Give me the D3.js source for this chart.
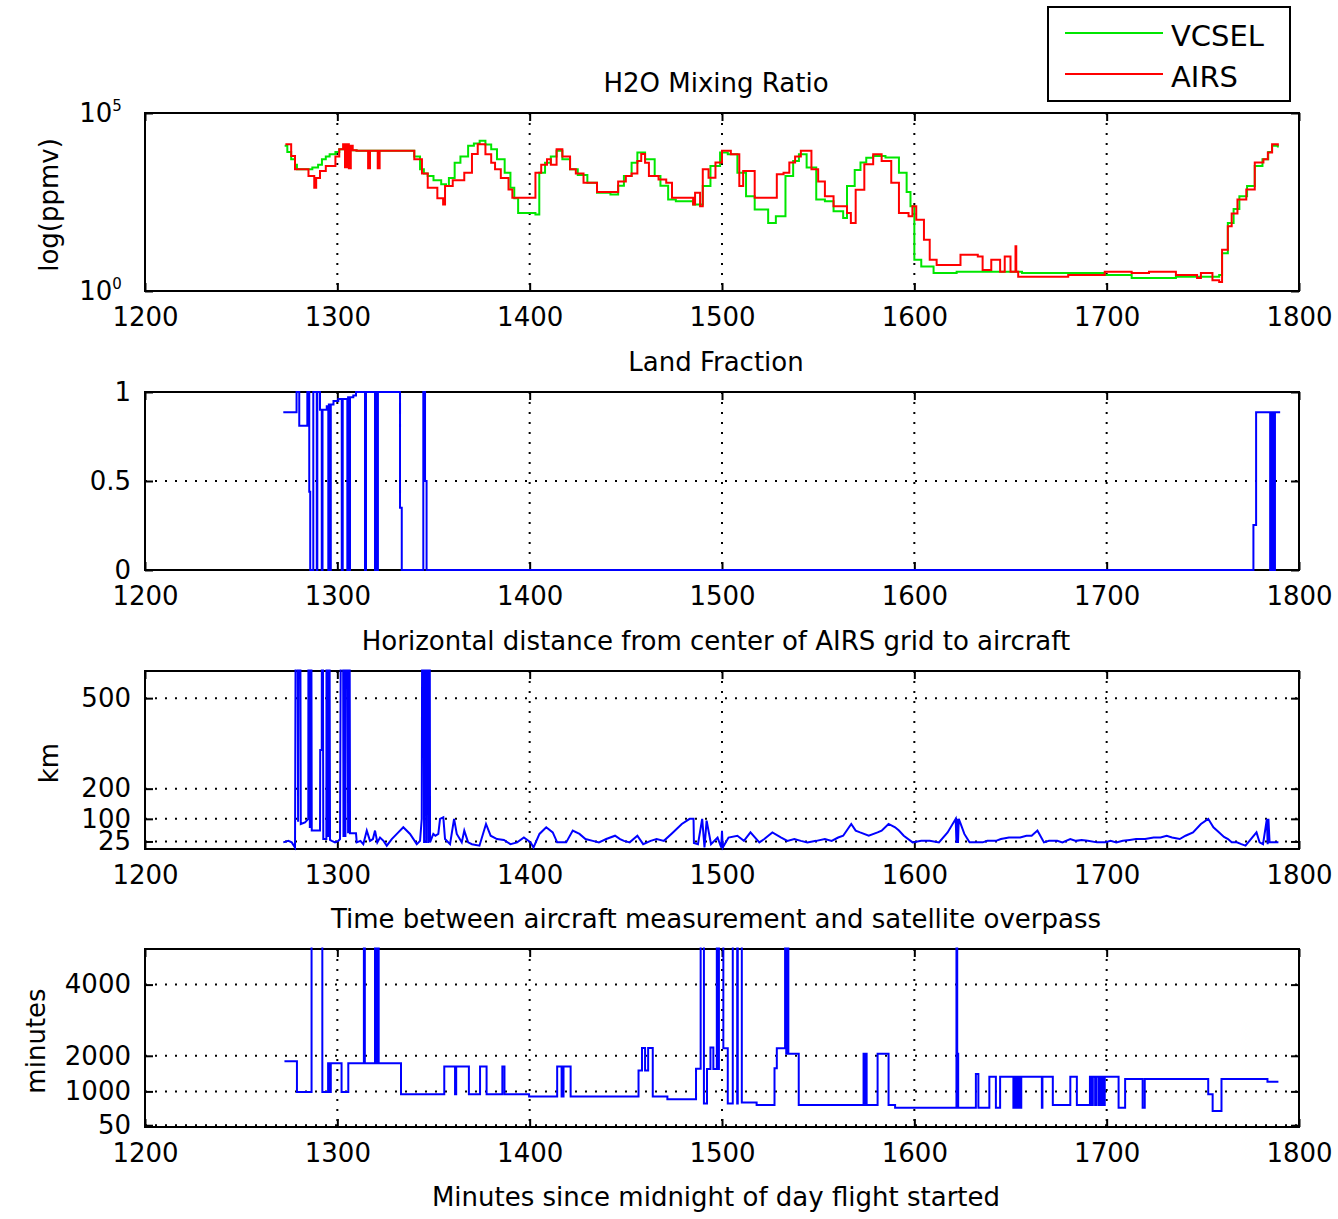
<!DOCTYPE html>
<html>
<head>
<meta charset="utf-8">
<script src="https://cdn.jsdelivr.net/npm/d3@7"></script>
<style>
  body { margin: 0; background: #fff; }
  text { font-family: "DejaVu Sans", sans-serif; fill: #000; }
</style>
</head>
<body>
<svg id="chart" width="1338" height="1219"></svg>
<script>
// ---- data: [minute since midnight, value] ----
const xTicks = [1200, 1300, 1400, 1500, 1600, 1700, 1800];

// H2O mixing ratio, ppmv
const h2oVcsel = [
  [1272.6,12000],[1274,8000],[1276,5000],[1278,3500],[1279,2630],[1283,2630],[1287,2950],[1290,3500],
  [1292,5000],[1294,6000],[1296,6900],[1299,8000],[1301,9550],[1304,9000],[1310,8700],[1338,8700],
  [1340,6000],[1343,2630],[1345,2000],[1347,1700],[1350,1300],[1354,1000],[1356.5,890],[1358,1500],
  [1361,3980],[1364,6000],[1368,12000],[1371,14000],[1374,16600],[1377,13000],[1380,9550],[1383,5000],
  [1387,2090],[1390,800],[1392,400],[1394,155],[1403,141],[1405,2090],[1408,4000],[1411,6000],
  [1414,8700],[1417,5000],[1421,2630],[1425,1800],[1430,1100],[1435,575],[1442,513],[1446,900],
  [1449,1700],[1453,4000],[1456,7760],[1460,5000],[1465,1700],[1468,900],[1472,372],[1476,331],
  [1485,269],[1490,890],[1494,3240],[1499,7760],[1503,6900],[1508,2090],[1512.5,457],[1517,195],
  [1524,81],[1528,126],[1533,1700],[1537,4500],[1540,6900],[1544,2950],[1549,372],[1553.5,331],
  [1558,174],[1563,112],[1565,890],[1569,2500],[1572,4070],[1575,5500],[1578.6,6170],[1585,5620],
  [1592,2090],[1596,600],[1598,240],[1600,7.6],[1603.6,4.9],[1610,3.2],[1622,3.5],[1644.6,3.5],
  [1656,3.2],[1679,3.2],[1699,2.8],[1713,2.3],[1736,2.5],[1745,2.5],[1758.5,2.8],[1760,11.5],
  [1763,81],[1766,200],[1769,457],[1773,890],[1777,3240],[1781,5000],[1784,8000],[1786,12000],
  [1789,10700]
];
const h2oAirs = [
  [1273,13200],[1276,6200],[1278,2630],[1281,2630],[1285,1700],[1288,790],[1289,1500],[1291,2340],
  [1294,3240],[1296,3240],[1299,6000],[1301,9550],[1303,13200],[1304,3000],[1305,13200],[1306,2800],
  [1307,12000],[1308,9000],[1310,8700],[1315,8700],[1316,2800],[1317,8700],[1320,8700],[1321,2800],
  [1322,8700],[1338,8700],[1340,5000],[1344,2000],[1347,795],[1352,400],[1355,270],[1356,890],
  [1360,1300],[1366,2090],[1370,7000],[1373,13200],[1377,6900],[1380,4000],[1382,2630],[1385,1500],
  [1389,710],[1391,417],[1402,417],[1403,2090],[1406,3500],[1409,5000],[1411,3500],[1414,9550],
  [1417,6000],[1421,2630],[1424,2000],[1428,1100],[1435,600],[1442,600],[1446,1200],[1450,1700],
  [1453,2000],[1456,4500],[1458,7000],[1460,4000],[1462,1700],[1467,1350],[1471,1100],[1474,417],
  [1485,269],[1486,575],[1488.6,240],[1490,2630],[1493,1510],[1496.6,4070],[1500,8700],[1504.6,6900],
  [1509,890],[1511,2340],[1517,417],[1525,417],[1528.5,1900],[1532,2090],[1535,4070],[1538,6000],
  [1541,8700],[1546.5,2630],[1550,1200],[1553.5,457],[1558,240],[1565,155],[1567,81],[1569.5,700],
  [1574,3630],[1578.6,6900],[1583,4470],[1588,1100],[1592,155],[1597,126],[1599,240],[1601,100],
  [1605,27.5],[1608,7.6],[1611.6,5.4],[1622,5.4],[1624,10.5],[1633,9.3],[1635.5,3.9],[1640,7.6],
  [1644.6,3.5],[1647,9.3],[1650,3.5],[1652.6,18],[1653,3.5],[1654,2.5],[1667,2.5],[1680,2.8],
  [1697,2.8],[1699,3.5],[1713,3.2],[1722,3.5],[1736,2.8],[1747,2.3],[1749,3.2],[1755,2.0],
  [1758.5,1.8],[1760,14.5],[1763,66],[1765,150],[1768,372],[1772.6,708],[1777,4070],[1781.5,5000],
  [1783.8,7760],[1786,13200],[1789,12000]
];
const h2oTicks = [1, 1e5];

// land fraction
const landFraction = [
  [1271.9,0.886],[1278.8,1],[1280.2,0.81],[1284.4,1],[1285.4,0.44],[1285.9,0],[1287.5,1],[1289.3,0],
  [1289.6,1],[1291,0.9],[1291.9,0],[1292.3,0.9],[1294.5,0.92],[1295.3,0],[1295.6,0.93],[1296.3,0],
  [1296.6,0.93],[1298,0.95],[1300.5,0.96],[1302.3,0],[1302.8,0.96],[1305.2,0],[1305.6,0.97],
  [1306.1,0],[1306.6,0.97],[1308.3,0.98],[1309.7,1],[1314.4,0],[1314.9,1],[1319.6,0],[1320.1,1],
  [1320.6,0],[1321.1,1],[1332.6,0.35],[1333.5,0],[1344.7,1],[1345.6,0.5],[1346.4,0],
  [1776.3,0.253],[1777.7,0.886],[1785,0],[1785.5,0.886],[1786,0],[1786.5,0.886],[1787,0],
  [1787.5,0.886],[1790.2,0.886]
];
const landTicks = [0, 0.5, 1];

// horizontal distance from AIRS grid centre to aircraft, km
const distanceKm = [
  [1271.9,22],[1274.5,27],[1276.3,22],[1278,5],[1278.9,2000],[1279.6,90],[1280.3,2000],[1281,83],
  [1283.2,88],[1284.9,100],[1285.1,2000],[1285.7,70],[1286.1,2000],[1286.7,61],[1291,61],[1291.1,328],
  [1291.9,328],[1292.1,2000],[1292.7,33],[1294.3,33],[1294.5,2000],[1295.2,40],[1295.5,2000],
  [1296.2,30],[1297.1,27],[1298.8,22],[1300.5,27],[1301.4,33],[1302.6,2000],[1303.2,40],[1303.6,2000],
  [1304.2,40],[1304.9,2000],[1305.6,52],[1306,2000],[1306.6,52],[1309.7,52],[1310.1,22],[1312,27],
  [1313.5,16],[1315.3,61],[1317,27],[1318.5,33],[1319.6,61],[1320.8,22],[1322.2,38],[1324,27],
  [1325.7,11],[1328.3,33],[1331.7,55],[1334.3,72],[1337.8,50],[1341.3,16],[1343,27],[1343.9,100],
  [1344.5,2000],[1345.1,20],[1345.6,2000],[1346.2,20],[1346.7,2000],[1347.3,20],[1347.8,2000],
  [1348.2,22],[1349.9,50],[1351,44],[1352.5,50],[1353.4,100],[1355.1,105],[1356,33],[1358.6,16],
  [1360.7,100],[1362.1,50],[1364.7,22],[1366,61],[1368,22],[1370,16],[1373.9,11],[1377.3,83],
  [1379.7,44],[1383,33],[1386.6,30],[1390,16],[1393.5,22],[1397,38],[1400.5,22],[1402,5],[1405.1,50],
  [1408.6,72],[1412,55],[1414.3,22],[1419,22],[1422.4,61],[1425.9,50],[1429,33],[1432.8,27],
  [1436,22],[1439.8,33],[1444.4,44],[1447,33],[1449,27],[1452,22],[1456,44],[1459,16],[1462.9,27],
  [1466,33],[1469.8,27],[1474.5,55],[1479.1,83],[1483.2,100],[1485.2,100],[1485.4,20],[1487.5,16],
  [1489.7,100],[1490.9,5],[1492,94],[1494.3,16],[1497.7,38],[1499.6,5],[1500,60],[1500.4,5],
  [1503.4,38],[1508,44],[1511.4,27],[1514.8,55],[1519.4,22],[1522,33],[1526.2,55],[1530.8,38],
  [1534,27],[1537.6,33],[1541,27],[1544.4,22],[1549,27],[1553.5,33],[1557,27],[1560.4,38],[1563,44],
  [1567.2,83],[1569.5,61],[1571.8,55],[1576.3,44],[1580.9,55],[1583,61],[1586.6,83],[1590,72],
  [1592,61],[1594.5,44],[1599.1,22],[1603.6,27],[1608,27],[1612.8,22],[1617.3,55],[1621.5,100],
  [1621.9,20],[1622.3,100],[1622.7,20],[1623.1,100],[1624.1,83],[1626,50],[1628.7,22],[1632,22],
  [1635.5,22],[1638,27],[1642.4,27],[1645,33],[1649.2,38],[1652,38],[1655,38],[1658.3,44],[1661,44],
  [1664,61],[1665,50],[1667.4,22],[1670,27],[1674.3,27],[1677,22],[1681.1,33],[1684,27],[1687,30],
  [1690.2,27],[1695,22],[1699.3,22],[1702,27],[1705,22],[1708.4,27],[1712,30],[1715.3,33],[1720,33],
  [1724.4,38],[1728,38],[1731.2,44],[1734,38],[1738,33],[1741,44],[1744.9,55],[1749,83],[1752.8,100],
  [1755.5,72],[1758.5,55],[1761,40],[1763.1,33],[1765,22],[1767.7,22],[1770,16],[1772.2,11],
  [1775,33],[1777.9,55],[1779.5,22],[1781.3,16],[1783.3,100],[1783.7,16],[1784.1,100],[1784.7,22],
  [1787,22],[1789.3,22]
];
const kmTicks = [25, 100, 200, 500];

// time between aircraft measurement and satellite overpass, minutes
const overpassGap = [
  [1272.5,1850],[1279,980],[1286.6,6000],[1292.2,980],[1295.2,1790],[1296.1,980],[1296.6,1790],
  [1302.2,980],[1305.7,1790],[1313.8,6000],[1314.3,1790],[1319.6,6000],[1320.2,1790],[1320.6,6000],
  [1321.5,1790],[1333.1,920],[1355.6,1700],[1361.2,920],[1361.8,1700],[1368.4,920],[1374.2,1700],
  [1377.6,920],[1385.8,1700],[1386.9,920],[1399.7,855],[1414.3,1700],[1416.6,855],[1417.6,1700],
  [1421.3,855],[1456.6,1585],[1458.4,2220],[1460,1585],[1461.6,2220],[1464,855],[1471.6,780],
  [1486.5,1633],[1488.9,6000],[1490.6,657],[1492.2,1630],[1494,2230],[1495.5,1630],[1497.3,6000],
  [1498,1630],[1498.4,6000],[1500.7,2210],[1503,657],[1505.6,6000],[1507.9,657],[1508.2,6000],
  [1510.3,685],[1518,620],[1527.3,1650],[1528.5,2210],[1532.8,6000],[1533.4,2060],[1533.8,6000],
  [1534.5,2060],[1539.9,620],[1573.6,2060],[1574.2,620],[1574.6,2060],[1575.2,620],[1580.9,2060],
  [1586.6,620],[1590,543],[1621.9,6000],[1622.3,2060],[1622.8,543],[1632,1490],[1633.3,543],
  [1639,1415],[1642.4,543],[1644.6,1415],[1651.5,543],[1652,1415],[1652.6,543],[1653.2,1415],
  [1653.8,543],[1654.4,1415],[1655,543],[1655.6,1415],[1666.3,543],[1666.6,1415],[1672,620],
  [1681.1,1415],[1684.5,620],[1691.3,1415],[1692,620],[1692.8,1415],[1694,620],[1694.8,1415],
  [1696,620],[1697,1415],[1698,620],[1699,1415],[1706.2,543],[1709.6,1349],[1718.7,543],
  [1719.8,1349],[1752.8,923],[1755.1,449],[1759.7,1349],[1783.6,1273],[1789.3,1273]
];
const gapTicks = [50, 1000, 2000, 4000];

// ---- layout ----
const svg = d3.select("#chart");
const plotLeft = 145, plotRight = 1299, plotHeight = 178;
const titleX = 716;
const fontSize = 26;
const tickLen = 8;

const x = d3.scaleLinear().domain([1200, 1800]).range([plotLeft, plotRight]);

const panels = [
  { top: 113, title: "H2O Mixing Ratio", ylabel: "log(ppmv)", ylabelX: 58,
    y: d3.scaleLog().domain([1, 1e5]), ticks: h2oTicks, yGrid: false, power: true,
    series: [ { data: h2oVcsel, color: "#00e600", curve: d3.curveStepAfter },
              { data: h2oAirs,  color: "#ff0000", curve: d3.curveStepAfter } ] },
  { top: 392, title: "Land Fraction", ylabel: null,
    y: d3.scaleLinear().domain([0, 1]), ticks: landTicks, yGrid: true,
    format: d => d === 0.5 ? "0.5" : String(d),
    series: [ { data: landFraction, color: "#0000ff", curve: d3.curveStepAfter } ] },
  { top: 671, title: "Horizontal distance from center of AIRS grid to aircraft", ylabel: "km", ylabelX: 58,
    y: d3.scaleLinear().domain([0, 590]), ticks: kmTicks, yGrid: true,
    series: [ { data: distanceKm, color: "#0000ff", curve: d3.curveLinear } ] },
  { top: 949, title: "Time between aircraft measurement and satellite overpass", ylabel: "minutes", ylabelX: 45,
    y: d3.scaleLinear().domain([0, 5000]), ticks: gapTicks, yGrid: true,
    series: [ { data: overpassGap, color: "#0000ff", curve: d3.curveStepAfter } ] }
];

function styleAxis(g) {
  g.select(".domain").remove();
  g.selectAll("line").attr("stroke", "#000").attr("stroke-width", 2);
  g.selectAll("text").attr("font-size", fontSize).attr("font-family", '"DejaVu Sans", sans-serif');
}

panels.forEach((p, i) => {
  const top = p.top, bottom = top + plotHeight;
  const y = p.y.range([bottom, top]);
  const g = svg.append("g");

  // dotted grid
  const grid = g.append("g").attr("stroke", "#000").attr("stroke-width", 2).attr("stroke-dasharray", "2,8");
  xTicks.filter(t => t > 1200 && t < 1800).forEach(t => {
    grid.append("line").attr("x1", x(t)).attr("x2", x(t)).attr("y1", top).attr("y2", bottom);
  });
  if (p.yGrid) {
    p.ticks.filter(t => y(t) > top + 1 && y(t) < bottom - 1).forEach(t => {
      grid.append("line").attr("x1", plotLeft).attr("x2", plotRight).attr("y1", y(t)).attr("y2", y(t));
    });
  }

  // frame
  g.append("rect").attr("x", plotLeft).attr("y", top)
    .attr("width", plotRight - plotLeft).attr("height", plotHeight)
    .attr("fill", "none").attr("stroke", "#000").attr("stroke-width", 2);

  // axes with inward ticks
  g.append("g").attr("transform", `translate(0,${bottom})`)
    .call(d3.axisBottom(x).tickValues(xTicks).tickSizeInner(-tickLen).tickSizeOuter(0).tickPadding(17).tickFormat(d3.format("d")))
    .call(styleAxis);
  g.append("g").attr("transform", `translate(0,${top})`)
    .call(d3.axisTop(x).tickValues(xTicks).tickSizeInner(-tickLen).tickSizeOuter(0).tickFormat(""))
    .call(styleAxis);
  const yAxis = d3.axisLeft(y).tickValues(p.ticks).tickSizeInner(-tickLen).tickSizeOuter(0).tickPadding(14);
  if (p.format) yAxis.tickFormat(p.format);
  else if (!p.power) yAxis.tickFormat(d3.format("d"));
  const yg = g.append("g").attr("transform", `translate(${plotLeft},0)`).call(yAxis).call(styleAxis);
  g.append("g").attr("transform", `translate(${plotRight},0)`)
    .call(d3.axisRight(y).tickValues(p.ticks).tickSizeInner(-tickLen).tickSizeOuter(0).tickFormat(""))
    .call(styleAxis);

  if (p.power) {
    yg.selectAll(".tick text").each(function (d) {
      const t = d3.select(this).text(null).attr("dx", "-0.35em");
      t.append("tspan").text("10");
      t.append("tspan").attr("font-size", 15).attr("dy", "-0.75em").text(Math.round(Math.log10(d)));
    });
  }

  // title
  svg.append("text").attr("x", titleX).attr("y", top - 21)
    .attr("text-anchor", "middle").attr("font-size", fontSize).text(p.title);

  // y label
  if (p.ylabel) {
    svg.append("text")
      .attr("transform", `translate(${p.ylabelX},${top + plotHeight / 2 + 3}) rotate(-90)`)
      .attr("text-anchor", "middle").attr("font-size", fontSize).text(p.ylabel);
  }

  // data
  const clipId = "clip" + i;
  svg.append("clipPath").attr("id", clipId).append("rect")
    .attr("x", plotLeft - 2).attr("y", top - 1.5)
    .attr("width", plotRight - plotLeft + 4).attr("height", plotHeight + 3);
  const dataG = g.append("g").attr("clip-path", `url(#${clipId})`);
  p.series.forEach(s => {
    const line = d3.line().curve(s.curve).x(d => x(d[0])).y(d => y(d[1]));
    dataG.append("path").datum(s.data).attr("d", line)
      .attr("fill", "none").attr("stroke", s.color).attr("stroke-width", 2)
      .attr("stroke-linejoin", "miter");
  });
});

// x label
svg.append("text").attr("x", titleX).attr("y", 1206)
  .attr("text-anchor", "middle").attr("font-size", fontSize)
  .text("Minutes since midnight of day flight started");

// legend
const legend = svg.append("g");
legend.append("rect").attr("x", 1048).attr("y", 7).attr("width", 242).attr("height", 94)
  .attr("fill", "#fff").attr("stroke", "#000").attr("stroke-width", 2);
[["VCSEL", "#00e600", 33], ["AIRS", "#ff0000", 74]].forEach(([name, color, ly]) => {
  legend.append("line").attr("x1", 1065).attr("x2", 1163).attr("y1", ly).attr("y2", ly)
    .attr("stroke", color).attr("stroke-width", 2);
  legend.append("text").attr("x", 1171).attr("y", ly + 13).attr("font-size", 29).text(name);
});
</script>
</body>
</html>
